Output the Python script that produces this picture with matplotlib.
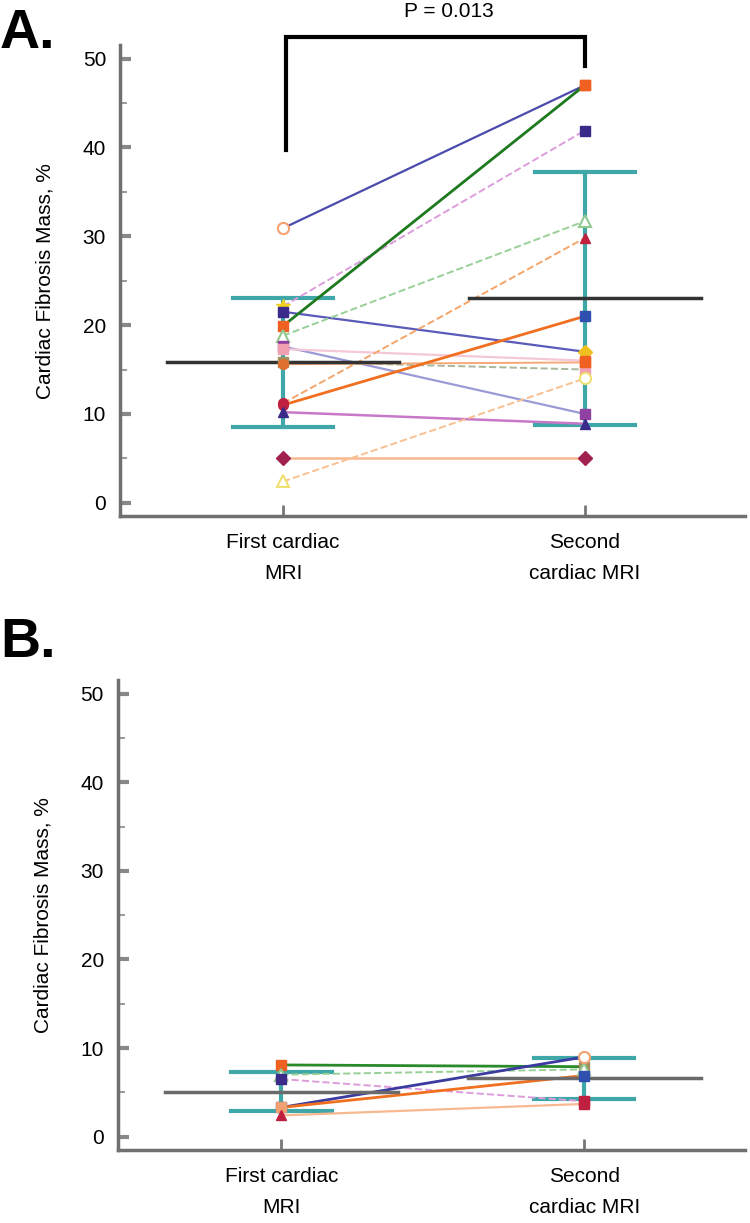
import matplotlib
matplotlib.use("Agg")
import matplotlib.pyplot as plt
from matplotlib import font_manager

names = {f.name for f in font_manager.fontManager.ttflist}
if "Liberation Sans Narrow" in names:
    FONT = "Liberation Sans Narrow"
else:
    FONT = "Liberation Sans"
plt.rcParams['font.family'] = [FONT, 'DejaVu Sans']

# ---- data, panel A ----
a_first = [30.9, 22.1, 21.5, 19.9, 18.8, 17.6, 17.3, 15.9, 15.6, 11.2, 11.0, 10.2, 5.0, 2.4]
a_second = [47.0, 41.9, 17.0, 47.0, 31.7, 10.0, 16.0, 15.0, 15.8, 29.8, 21.0, 8.9, 5.0, 14.0]
a_mean = [15.8, 23.0]
a_sd = [7.3, 14.2]

# ---- data, panel B ----
b_first = [8.1, 7.0, 6.5, 3.3, 3.3, 2.4]
b_second = [7.9, 7.6, 4.0, 9.0, 6.9, 3.7]
b_mean = [5.1, 6.6]
b_sd = [2.2, 2.3]

x_labels = ["First cardiac\nMRI", "Second\ncardiac MRI"]
p_text = "P = 0.013"

# line style per patient: (line color, linestyle, lw, marker1, face1, marker2, face2)
a_style = [
    ("#4b4bab", "-", 1.6, "o", "none:#f4a070", "s", "#f06020"),
    ("#dd9ddd", "--", 1.4, "*", "#f0d020", "s", "#3a2a8a"),
    ("#5a5ab8", "-", 1.6, "s", "#3a2a8a", "D", "#f0c020"),
    ("#1e7a1e", "-", 2.0, "s", "#f06020", "s", "#f06020"),
    ("#98d098", "--", 1.4, "^", "none:#90c890", "^", "none:#90c890"),
    ("#9a9ad6", "-", 1.6, "s", "#9040a0", "s", "#9040a0"),
    ("#f4c8d8", "-", 1.6, "s", "#f0a0b0", "s", "#f06020"),
    ("#a8b89a", "--", 1.4, "s", "#a09060", "s", "#f0a0b0"),
    ("#f5a878", "-", 1.4, "o", "#e07030", "s", "#f06020"),
    ("#f4a56a", "--", 1.4, "o", "#c02040", "^", "#c02040"),
    ("#f07020", "-", 2.0, "o", "#c02040", "s", "#3050b0"),
    ("#c878c8", "-", 1.8, "^", "#3a2a8a", "^", "#3a2a8a"),
    ("#f8b890", "-", 1.8, "D", "#a02050", "D", "#a02050"),
    ("#f8c090", "--", 1.4, "^", "none:#f0e070", "o", "none:#f0e070"),
]
b_style = [
    ("#2a8a2a", "-", 2.0, "s", "#f06020", "s", "#a09060"),
    ("#98d098", "--", 1.4, "^", "none:#90c890", "^", "none:#90c890"),
    ("#dd9ddd", "--", 1.4, "s", "#3a2a8a", "s", "#c02040"),
    ("#3a3aa0", "-", 2.0, "s", "#3050b0", "o", "none:#f4a070"),
    ("#f07020", "-", 2.0, "s", "#f0a070", "s", "#3050b0"),
    ("#f8b890", "-", 1.6, "^", "#c02040", "s", "#c02040"),
]

TEAL = "#3fa7a7"
GRAY = "#707070"


def draw_marker(ax, x, y, m, face):
    if face.startswith("none:"):
        ec = face.split(":")[1]
        ax.plot(x, y, marker=m, ms=8, mfc="white", mec=ec, mew=1.5, zorder=6, clip_on=False)
    else:
        ms = 10 if m == "*" else 7
        ax.plot(x, y, marker=m, ms=ms, mfc=face, mec=face, mew=1, zorder=6, clip_on=False)


def panel(ax, first, second, style, mean, sd, mean_color):
    # error bars (mean +/- sd)
    for i in range(2):
        ax.plot([i + 1, i + 1], [mean[i] - sd[i], mean[i] + sd[i]], color=TEAL, lw=3, zorder=2)
        for yv in (mean[i] - sd[i], mean[i] + sd[i]):
            ax.plot([i + 1 - 0.166, i + 1 + 0.166], [yv, yv], color=TEAL, lw=3, zorder=2)
    # patient lines
    for f, s, st in zip(first, second, style):
        ax.plot([1, 2], [f, s], color=st[0], ls=st[1], lw=st[2], zorder=3)
    # mean lines
    for i in range(2):
        ax.plot([i + 1 - 0.385, i + 1 + 0.385], [mean[i], mean[i]], color=mean_color, lw=2.5, zorder=4)
    for f, s, st in zip(first, second, style):
        draw_marker(ax, 1, f, st[3], st[4])
        draw_marker(ax, 2, s, st[5], st[6])

    ax.set_xlim(0.46, 2.53)
    ax.set_ylim(-1.5, 51.5)
    ax.set_yticks(range(0, 51, 10))
    ax.set_yticks(range(5, 51, 10), minor=True)
    ax.set_xticks([1, 2])
    ax.set_xticklabels(x_labels, fontsize=15, linespacing=1.8)
    ax.tick_params(axis="y", which="major", direction="in", length=8, width=3, color="#888888",
                   labelsize=15, pad=10)
    ax.tick_params(axis="y", which="minor", direction="in", length=5, width=1.2, color="#888888")
    ax.tick_params(axis="x", direction="in", length=8, width=2, color="#777777", labelsize=15, pad=12)
    for side in ("top", "right"):
        ax.spines[side].set_visible(False)
    for side in ("left", "bottom"):
        ax.spines[side].set_color(GRAY)
        ax.spines[side].set_linewidth(2.5)
    ax.set_ylabel("Cardiac Fibrosis Mass, %", fontsize=15, labelpad=20)


fig = plt.figure(figsize=(7.5, 12.23), dpi=100)
ax_a = fig.add_axes([0.16, 0.578, 0.833, 0.385])
ax_b = fig.add_axes([0.157, 0.0597, 0.836, 0.384])

panel(ax_a, a_first, a_second, a_style, a_mean, a_sd, "#333333")
panel(ax_b, b_first, b_second, b_style, b_mean, b_sd, "#6a6a6a")

# significance bracket
ax_a.plot([1.01, 1.01, 2.0, 2.0], [39.7, 52.4, 52.4, 49.2], color="black", lw=3,
          clip_on=False, zorder=7, solid_joinstyle="miter")
ax_a.text(1.55, 55.3, p_text, ha="center", va="center", fontsize=15, clip_on=False)

fig.text(0.0, 0.972, "A.", fontsize=40, fontweight="bold", va="center", ha="left")
fig.text(0.0, 0.474, "B.", fontsize=40, fontweight="bold", va="center", ha="left")

fig.savefig("out.png", dpi=100)
